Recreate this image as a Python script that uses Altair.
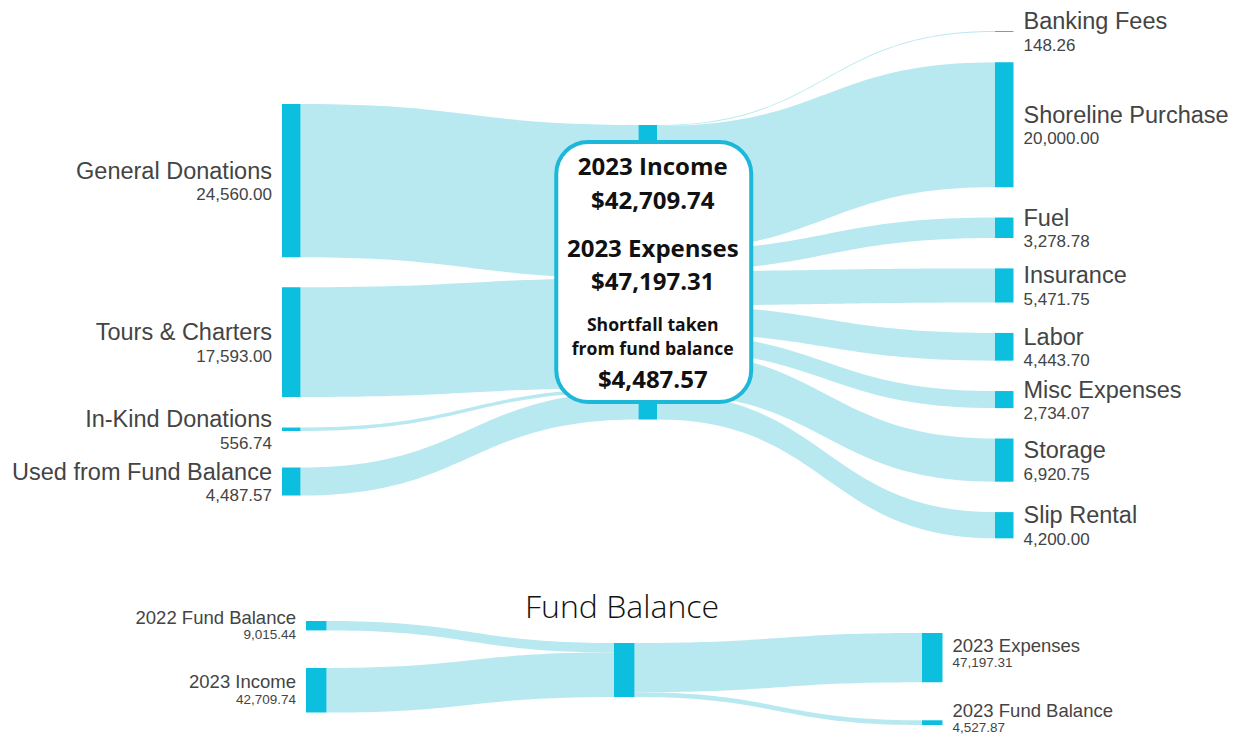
import altair as alt
import pandas as pd

# ---------------- data ----------------
income_names = ["General Donations", "Tours & Charters", "In-Kind Donations", "Used from Fund Balance"]
income_values = [24560.00, 17593.00, 556.74, 4487.57]

expense_names = ["Banking Fees", "Shoreline Purchase", "Fuel", "Insurance", "Labor",
                 "Misc Expenses", "Storage", "Slip Rental"]
expense_values = [148.26, 20000.00, 3278.78, 5471.75, 4443.70, 2734.07, 6920.75, 4200.00]

fund_in_names = ["2022 Fund Balance", "2023 Income"]
fund_in_values = [9015.44, 42709.74]
fund_out_names = ["2023 Expenses", "2023 Fund Balance"]
fund_out_values = [47197.31, 4527.87]

box_lines = ["2023 Income", "$42,709.74", "2023 Expenses", "$47,197.31",
             "Shortfall taken", "from fund balance", "$4,487.57"]
bottom_title = "Fund Balance"

# ---------------- style / layout parameters ----------------
NODE = "#0cbfdf"
LINK = "#b8e9f0"
LABEL = "#444444"
LABEL_FONT = "Liberation Sans"
BOX_FONT = "Open Sans"

K_TOP = 0.00624      # px per unit, top sankey
K_BOT = 0.001044     # px per unit, bottom sankey
NW_TOP = 18.5
NW_BOT = 20.5


def stack(values, top, gaps, k):
    out, y = [], top
    for i, v in enumerate(values):
        h = v * k
        out.append((y, y + h))
        y += h + (gaps[i] if i < len(gaps) else 0)
    return out


def bezier_rows(name, xs, xt, s0, s1, t0, t1, n=48):
    rows = []
    xm = (xs + xt) / 2
    for i in range(n + 1):
        t = i / n
        a, b, c, d = (1 - t) ** 3, 3 * (1 - t) ** 2 * t, 3 * (1 - t) * t ** 2, t ** 3
        x = a * xs + (b + c) * xm + d * xt
        ya = (a + b) * s0 + (c + d) * t0
        yb = (a + b) * s1 + (c + d) * t1
        rows.append({"link": name, "x": x, "y": ya, "y2": yb})
    return rows


nodes, links = [], []
lab_left_name, lab_left_val, lab_right_name, lab_right_val = [], [], [], []
blab_left_name, blab_left_val, blab_right_name, blab_right_val = [], [], [], []

# ---- top sankey ----
LX, MX, RX = 282, 638.5, 995
left = stack(income_values, 104, [30, 30.5, 36.5], K_TOP)
mid_top = 125
mid = (mid_top, mid_top + sum(income_values) * K_TOP)
right = stack(expense_values, 31, [30.4] * 7, K_TOP)

for (y0, y1) in left:
    nodes.append({"x": LX, "x2": LX + NW_TOP, "y": y0, "y2": y1})
nodes.append({"x": MX, "x2": MX + NW_TOP, "y": mid[0], "y2": mid[1]})
for (y0, y1) in right:
    nodes.append({"x": RX, "x2": RX + NW_TOP, "y": y0, "y2": y1})

cur = mid[0]
for nm, v, (y0, y1) in zip(income_names, income_values, left):
    h = v * K_TOP
    links += bezier_rows("in_" + nm, LX + NW_TOP, MX, y0, y1, cur, cur + h)
    cur += h
    c = (y0 + y1) / 2
    lab_left_name.append({"x": LX - 10, "y": c - 2, "t": nm})
    lab_left_val.append({"x": LX - 10, "y": c + 19.5, "v": v})

cur = mid[0]
for nm, v, (y0, y1) in zip(expense_names, expense_values, right):
    h = v * K_TOP
    links += bezier_rows("out_" + nm, MX + NW_TOP, RX, cur, cur + h, y0, y1)
    cur += h
    c = (y0 + y1) / 2
    lab_right_name.append({"x": RX + NW_TOP + 10, "y": c - 2, "t": nm})
    lab_right_val.append({"x": RX + NW_TOP + 10, "y": c + 19.5, "v": v})

# ---- bottom sankey ----
BLX, BMX, BRX = 306, 614, 922
bleft = stack(fund_in_values, 621, [37.6], K_BOT)
bmid = (643, 643 + sum(fund_in_values) * K_BOT)
bright = stack(fund_out_values, 633, [38], K_BOT)

for (y0, y1) in bleft:
    nodes.append({"x": BLX, "x2": BLX + NW_BOT, "y": y0, "y2": y1})
nodes.append({"x": BMX, "x2": BMX + NW_BOT, "y": bmid[0], "y2": bmid[1]})
for (y0, y1) in bright:
    nodes.append({"x": BRX, "x2": BRX + NW_BOT, "y": y0, "y2": y1})

cur = bmid[0]
for nm, v, (y0, y1) in zip(fund_in_names, fund_in_values, bleft):
    h = v * K_BOT
    links += bezier_rows("bin_" + nm, BLX + NW_BOT, BMX, y0, y1, cur, cur + h)
    cur += h
    c = (y0 + y1) / 2
    blab_left_name.append({"x": BLX - 10, "y": c - 2, "t": nm})
    blab_left_val.append({"x": BLX - 10, "y": c + 13.5, "v": v})

cur = bmid[0]
for nm, v, (y0, y1) in zip(fund_out_names, fund_out_values, bright):
    h = v * K_BOT
    links += bezier_rows("bout_" + nm, BMX + NW_BOT, BRX, cur, cur + h, y0, y1)
    cur += h
    c = (y0 + y1) / 2
    blab_right_name.append({"x": BRX + NW_BOT + 10, "y": c - 6, "t": nm})
    blab_right_val.append({"x": BRX + NW_BOT + 10, "y": c + 9.5, "v": v})

# ---- overlay box around middle node ----
box_cx = MX + NW_TOP / 2 + 6
box = pd.DataFrame([{"x": box_cx - 97.5, "x2": box_cx + 97.5, "y": 142, "y2": 402}])
box_baselines = [175, 209, 257, 290, 331, 355, 388]
box_sizes = [24, 24, 24, 24, 17.6, 17.6, 24]
box_text = pd.DataFrame([{"x": box_cx - 1, "y": b, "t": t, "s": s}
                         for t, b, s in zip(box_lines, box_baselines, box_sizes)])

title_df = pd.DataFrame([{"x": 622, "y": 618, "t": bottom_title}])

# ---------------- chart ----------------
W, H = 1226, 727
xs = alt.Scale(domain=[8, 8 + W], range=[0, W], nice=False, zero=False)
ys = alt.Scale(domain=[8, 8 + H], range=[0, H], nice=False, zero=False)


def X(f="x"):
    return alt.X(f"{f}:Q", scale=xs, axis=None)


def Y(f="y"):
    return alt.Y(f"{f}:Q", scale=ys, axis=None)


link_layer = alt.Chart(pd.DataFrame(links)).mark_area(
    orient="vertical", color=LINK, opacity=1, interpolate="linear"
).encode(x=X(), y=Y(), y2=alt.Y2("y2:Q"), detail="link:N")

node_layer = alt.Chart(pd.DataFrame(nodes)).mark_rect(color=NODE).encode(
    x=X(), x2=alt.X2("x2:Q"), y=Y(), y2=alt.Y2("y2:Q")
)

box_layer = alt.Chart(box).mark_rect(
    fill="white", stroke="#1db7d9", strokeWidth=4, cornerRadius=32
).encode(x=X(), x2=alt.X2("x2:Q"), y=Y(), y2=alt.Y2("y2:Q"))

box_text_layer = alt.Chart(box_text).mark_text(
    font=BOX_FONT, fontWeight="bold", color="#111111", align="center", baseline="alphabetic"
).encode(x=X(), y=Y(), text="t:N", size=alt.Size("s:Q", scale=None, legend=None))


def text_layer(rows, align, size, field, fmt=None):
    df = pd.DataFrame(rows)
    if fmt:
        txt = alt.Text(f"{field}:Q", format=fmt)
    else:
        txt = alt.Text(f"{field}:N")
    return alt.Chart(df).mark_text(
        font=LABEL_FONT, fontSize=size, color=LABEL, align=align, baseline="alphabetic"
    ).encode(x=X(), y=Y(), text=txt)


labels = [
    text_layer(lab_left_name, "right", 23.5, "t"),
    text_layer(lab_left_val, "right", 17, "v", ",.2f"),
    text_layer(lab_right_name, "left", 23.5, "t"),
    text_layer(lab_right_val, "left", 17, "v", ",.2f"),
    text_layer(blab_left_name, "right", 18.5, "t"),
    text_layer(blab_left_val, "right", 13.5, "v", ",.2f"),
    text_layer(blab_right_name, "left", 18.5, "t"),
    text_layer(blab_right_val, "left", 13.5, "v", ",.2f"),
]

title_layer = alt.Chart(title_df).mark_text(
    font=BOX_FONT, fontSize=32, fontWeight=300, color="#111111", align="center",
    baseline="alphabetic"
).encode(x=X(), y=Y(), text="t:N")

chart = alt.layer(
    link_layer, node_layer, box_layer, box_text_layer, *labels, title_layer
).properties(
    width=W, height=H, autosize="none", padding=0
).configure_view(stroke=None)

chart.save("out.html", embed_options={"renderer": "svg", "actions": False})
